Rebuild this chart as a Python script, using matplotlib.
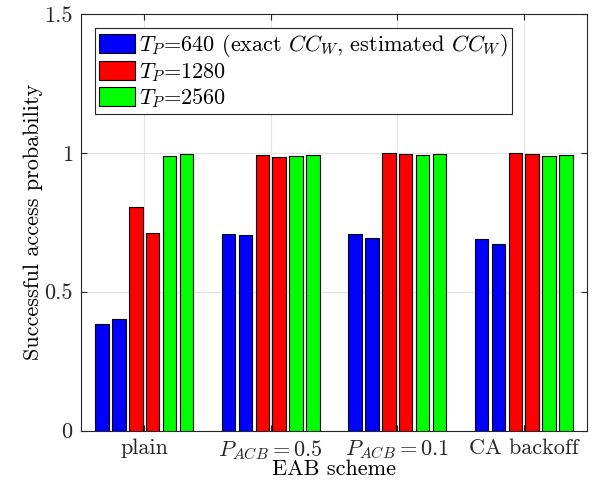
import matplotlib
matplotlib.use("Agg")
import matplotlib.pyplot as plt
import numpy as np

# %%
## Data
schemes = ["plain", r"$P_{ACB}=0.5$", r"$P_{ACB}=0.1$", "CA backoff"]
series_labels = [
    r"$T_P$=640 (exact $CC_W$, estimated $CC_W$)",
    r"$T_P$=1280",
    r"$T_P$=2560",
]
tp640_exact = [0.384, 0.709, 0.706, 0.688]
tp640_est = [0.402, 0.704, 0.694, 0.670]
tp1280_exact = [0.806, 0.992, 0.998, 0.999]
tp1280_est = [0.712, 0.984, 0.995, 0.995]
tp2560_exact = [0.988, 0.990, 0.991, 0.988]
tp2560_est = [0.997, 0.993, 0.995, 0.993]

# %%
## Style
plt.rcParams["font.family"] = "serif"
plt.rcParams["font.serif"] = ["cmr10"]
plt.rcParams["mathtext.fontset"] = "cm"
plt.rcParams["axes.formatter.use_mathtext"] = True
plt.rcParams["font.size"] = 16

blue, red, green = "#0000ff", "#ff0000", "#00ff00"
edge = "#262626"

# %%
fig = plt.figure(figsize=(5.97, 4.91), dpi=100)
ax = fig.add_axes([0.1357, 0.1232, 0.8476, 0.8483])

x = np.arange(1, len(schemes) + 1)
series = [
    (tp640_exact, blue), (tp640_est, blue),
    (tp1280_exact, red), (tp1280_est, red),
    (tp2560_exact, green), (tp2560_est, green),
]
n = len(series)
pitch = 0.8 / n
width = pitch * 0.8
handles = []
for i, (vals, col) in enumerate(series):
    off = (i - (n - 1) / 2) * pitch
    b = ax.bar(x + off, vals, width, color=col, edgecolor="black",
               linewidth=0.8, zorder=3)
    if i % 2 == 0:
        handles.append(b)

ax.set_xlim(0.5, 4.5)
ax.set_ylim(0, 1.5)
ax.set_xticks(x)
ax.set_xticklabels(schemes)
ax.set_yticks([0, 0.5, 1, 1.5])
ax.set_yticklabels(["0", "0.5", "1", "1.5"])
ax.grid(True, color="#e3e3e3", linewidth=0.8, zorder=0)
ax.set_axisbelow(True)
ax.tick_params(direction="in", top=True, right=True, length=4,
               color=edge, labelcolor="#262626", pad=6)
for s in ax.spines.values():
    s.set_color(edge)
    s.set_linewidth(0.8)

ax.set_xlabel("EAB scheme", labelpad=-2)
ax.set_ylabel("Successful access probability", labelpad=1)

leg = ax.legend(handles, series_labels, loc="upper left",
                bbox_to_anchor=(0.027, 0.967), fancybox=False,
                framealpha=1, edgecolor=edge, handlelength=1.6,
                handleheight=0.95, handletextpad=0.2, labelspacing=0.08,
                borderpad=0.2, borderaxespad=0)
leg.get_frame().set_linewidth(0.8)

fig.savefig("out.png", dpi=100)
